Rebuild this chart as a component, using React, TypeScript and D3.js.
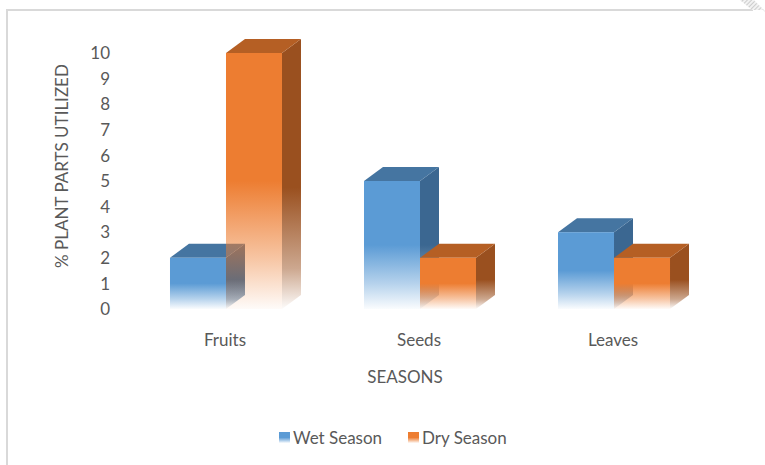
import React from "react";
import * as d3 from "d3";

const categories = ["Fruits", "Seeds", "Leaves"];
const seriesNames = ["Wet Season", "Dry Season"];
const wetValues = [2, 5, 3];
const dryValues = [10, 2, 2];
const yTicks = [0, 1, 2, 3, 4, 5, 6, 7, 8, 9, 10];

const W = 765;
const H = 465;
const FONT = "Lato, 'Liberation Sans', Arial, sans-serif";
const TXT = "#595959";

const colors = [
  { front: "#5B9BD5", top: "#4575A1", side: "#3B6791" },
  { front: "#ED7D31", top: "#B55F24", side: "#9A501F" },
];

export default function App() {
  const x = d3
    .scaleBand<string>()
    .domain(categories)
    .range([129, 711])
    .paddingInner(0.4227)
    .paddingOuter(0.2113);
  const xs = d3.scaleBand<string>().domain(seriesNames).range([0, x.bandwidth()]);
  const y = d3.scaleLinear().domain([0, 10]).range([309, 53]);
  const dx = 19;
  const dy = -14;
  const values = [wetValues, dryValues];

  const bars: React.ReactNode[] = [];
  categories.forEach((c, ci) => {
    seriesNames.forEach((s, si) => {
      const v = values[si][ci];
      const x0 = (x(c) ?? 0) + (xs(s) ?? 0);
      const x1 = x0 + xs.bandwidth();
      const yt = y(v);
      const yb = y(0);
      const col = colors[si];
      bars.push(
        <g key={c + s}>
          <polygon
            points={`${x1},${yt} ${x1 + dx},${yt + dy} ${x1 + dx},${yb + dy} ${x1},${yb}`}
            fill={`url(#side${si})`}
          />
          <polygon
            points={`${x0},${yt} ${x0 + dx},${yt + dy} ${x1 + dx},${yt + dy} ${x1},${yt}`}
            fill={col.top}
          />
          <rect x={x0} y={yt} width={x1 - x0} height={yb - yt} fill={`url(#front${si})`} />
        </g>
      );
    });
  });

  const cx = (c: string) => (x(c) ?? 0) + x.bandwidth() / 2 - 1;

  return (
    <svg width={W} height={H} style={{ position: "absolute", left: 0, top: 0 }}>
      <defs>
        {colors.map((col, i) => (
          <React.Fragment key={i}>
            <linearGradient id={`front${i}`} x1="0" y1="0" x2="0" y2="1">
              <stop offset="0" stopColor={col.front} stopOpacity={1} />
              <stop offset="0.5" stopColor={col.front} stopOpacity={1} />
              <stop offset="0.8" stopColor={col.front} stopOpacity={0.45} />
              <stop offset="1" stopColor={col.front} stopOpacity={0.03} />
            </linearGradient>
            <linearGradient id={`side${i}`} x1="0" y1="0" x2="0" y2="1">
              <stop offset="0" stopColor={col.side} stopOpacity={1} />
              <stop offset="0.55" stopColor={col.side} stopOpacity={1} />
              <stop offset="0.85" stopColor={col.side} stopOpacity={0.5} />
              <stop offset="1" stopColor={col.side} stopOpacity={0.02} />
            </linearGradient>
          </React.Fragment>
        ))}
        <pattern id="hatch" width="3" height="3" patternUnits="userSpaceOnUse" patternTransform="rotate(45)">
          <rect width="3" height="3" fill="#f2f2f2" />
          <line x1="0" y1="0" x2="0" y2="3" stroke="#bfbfbf" strokeWidth="1.5" />
        </pattern>
      </defs>
      <rect width={W} height={H} fill="#fff" />
      {/* chart border */}
      <polyline points="7,465 7,10 753,10" fill="none" stroke="#d9d9d9" strokeWidth={2} />
      <polygon points="740,0 752,0 765,12 765,10 753,10" fill="url(#hatch)" />
      <polygon points="740,0 754,0 765,11 765,10 752,10" fill="url(#hatch)" opacity={0.8} />

      {/* y tick labels */}
      {yTicks.map((t) => (
        <text
          key={t}
          x={110}
          y={y(t)}
          dy="0.36em"
          textAnchor="end"
          fontFamily={FONT}
          fontSize={17}
          fill={TXT}
        >
          {t}
        </text>
      ))}
      <text
        transform={`translate(68,166) rotate(-90)`}
        textAnchor="middle"
        fontFamily={FONT}
        fontSize={17}
        fill={TXT}
      >
        % PLANT PARTS UTILIZED
      </text>

      {bars}

      {categories.map((c) => (
        <text key={c} x={cx(c)} y={346} textAnchor="middle" fontFamily={FONT} fontSize={17} fill={TXT}>
          {c}
        </text>
      ))}
      <text x={405} y={383} textAnchor="middle" fontFamily={FONT} fontSize={17} fill={TXT}>
        SEASONS
      </text>

      {/* legend */}
      {seriesNames.map((s, i) => {
        const lx = i === 0 ? 279 : 408;
        return (
          <g key={s}>
            <rect x={lx} y={432} width={11} height={11} fill={`url(#front${i})`} />
            <text x={lx + 14} y={444} fontFamily={FONT} fontSize={17} fill={TXT}>
              {s}
            </text>
          </g>
        );
      })}
    </svg>
  );
}
